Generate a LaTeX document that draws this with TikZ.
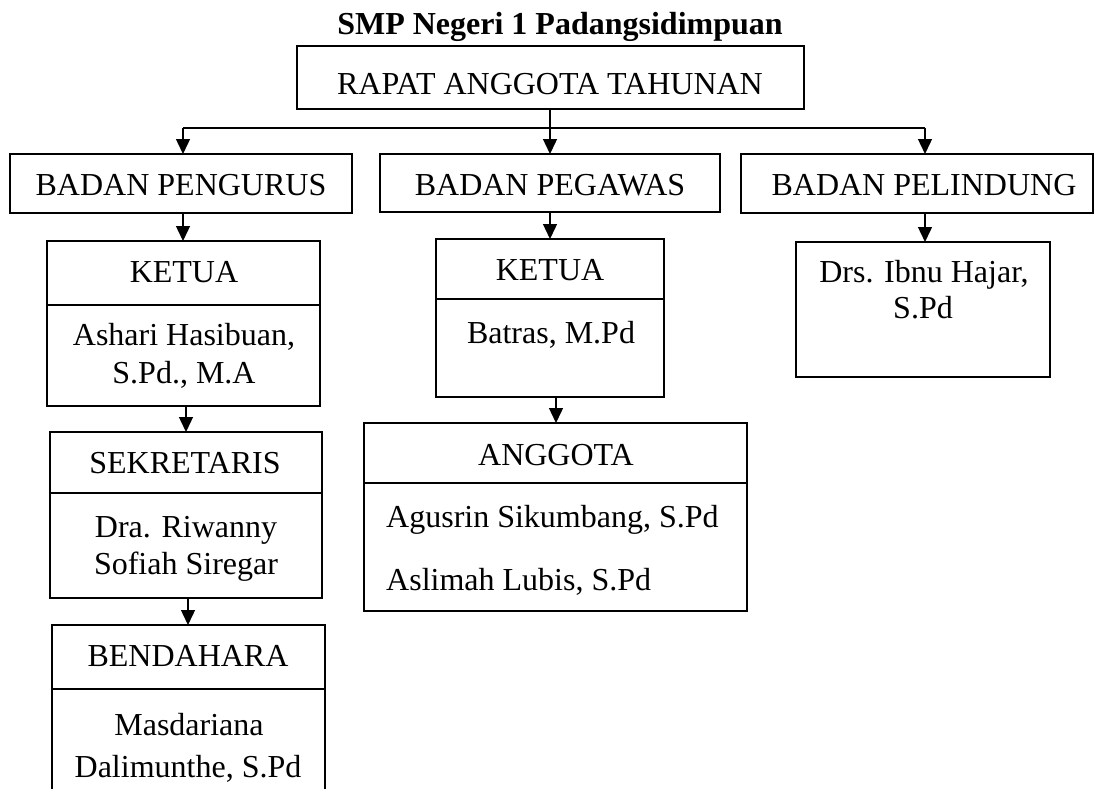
\documentclass[tikz,border=0pt]{standalone}
\usepackage{fontspec}
\setmainfont{Liberation Serif}
\usetikzlibrary{arrows.meta}
\begin{document}
\begin{tikzpicture}[x=1pt,y=-1pt,
  box/.style={draw, line width=1.4pt, rectangle, inner sep=0pt, outer sep=0pt},
  txt/.style={inner sep=0pt, anchor=base, font=\fontsize{32}{38}\selectfont},
  ltxt/.style={inner sep=0pt, anchor=base west, font=\fontsize{32}{38}\selectfont},
  ttl/.style={inner sep=0pt, anchor=base, font=\fontsize{32}{38}\selectfont\bfseries},
  arr/.style={line width=1.4pt, -{Triangle[length=15pt,width=14pt]}},
  ln/.style={line width=1.4pt}]
\useasboundingbox (0,0) rectangle (1094,789);
\fill[white] (0,0) rectangle (1094,789);

% boxes
\node[box, minimum width=507pt, minimum height=63pt] (rat) at (550.5,77.5) {};
\node[box, minimum width=342pt, minimum height=59pt] (bp) at (181,183.5) {};
\node[box, minimum width=340pt, minimum height=58pt] (bpw) at (550,183) {};
\node[box, minimum width=352pt, minimum height=59pt] (bpl) at (917,183.5) {};
\node[box, minimum width=273pt, minimum height=165pt] (k1) at (183.5,323.5) {};
\node[box, minimum width=272pt, minimum height=166pt] (sek) at (186,515) {};
\node[box, minimum width=273pt, minimum height=170pt] (ben) at (188.5,710) {};
\node[box, minimum width=228pt, minimum height=158pt] (k2) at (550,318) {};
\node[box, minimum width=383pt, minimum height=188pt] (ang) at (555.5,517) {};
\node[box, minimum width=254pt, minimum height=135pt] (drs) at (923,309.5) {};

% dividers
\coordinate (d1) at (0,305);
\coordinate (d2) at (0,493);
\coordinate (d3) at (0,689);
\coordinate (d4) at (0,299);
\coordinate (d5) at (0,483);
\draw[ln] (k1.west |- d1) -- (k1.east |- d1);
\draw[ln] (sek.west |- d2) -- (sek.east |- d2);
\draw[ln] (ben.west |- d3) -- (ben.east |- d3);
\draw[ln] (k2.west |- d4) -- (k2.east |- d4);
\draw[ln] (ang.west |- d5) -- (ang.east |- d5);

% texts
\node[ttl] (title) at (560,35) {SMP Negeri 1 Padangsidimpuan};
\node[txt] (trat) at (550,95) {RAPAT ANGGOTA TAHUNAN};
\node[txt] (tbp) at (181,195) {BADAN PENGURUS};
\node[txt] (tbpw) at (550,195) {BADAN PEGAWAS};
\node[txt] (tbpl) at (924,195) {BADAN PELINDUNG};
\node[txt] (tk1) at (184,282) {KETUA};
\node[txt] (tk1a) at (184,345) {Ashari Hasibuan,};
\node[txt] (tk1b) at (184,383) {S.Pd., M.A};
\node[txt] (tsek) at (185,473) {SEKRETARIS};
\node[txt] (tseka) at (186,537) {Dra. Riwanny};
\node[txt] (tsekb) at (186,574) {Sofiah Siregar};
\node[txt] (tben) at (188,666) {BENDAHARA};
\node[txt] (tbena) at (189,735) {Masdariana};
\node[txt] (tbenb) at (188,777) {Dalimunthe, S.Pd};
\node[txt] (tk2) at (550,280) {KETUA};
\node[txt] (tk2a) at (551,343) {Batras, M.Pd};
\node[txt] (tang) at (556,465) {ANGGOTA};
\node[ltxt] (tanga) at (386,527) {Agusrin Sikumbang, S.Pd};
\node[ltxt] (tangb) at (386,590) {Aslimah Lubis, S.Pd};
\node[txt] (tdrsa) at (924,282) {Drs. Ibnu Hajar,};
\node[txt] (tdrsb) at (923,318) {S.Pd};

% connectors
\coordinate (j) at (550,128);
\coordinate (hl) at (183,128);
\coordinate (hr) at (925,128);
\coordinate (c1) at (186,0);
\coordinate (c2) at (188,0);
\coordinate (c3) at (556,0);
\draw[ln] (j |- rat.south) -- (j);
\draw[ln] (hl) -- (hr);
\draw[arr] (hl) -- (hl |- bp.north);
\draw[arr] (j) -- (j |- bpw.north);
\draw[arr] (hr) -- (hr |- bpl.north);
\draw[arr] (hl |- bp.south) -- (hl |- k1.north);
\draw[arr] (j |- bpw.south) -- (j |- k2.north);
\draw[arr] (hr |- bpl.south) -- (hr |- drs.north);
\draw[arr] (c1 |- k1.south) -- (c1 |- sek.north);
\draw[arr] (c2 |- sek.south) -- (c2 |- ben.north);
\draw[arr] (c3 |- k2.south) -- (c3 |- ang.north);
\end{tikzpicture}
\end{document}
